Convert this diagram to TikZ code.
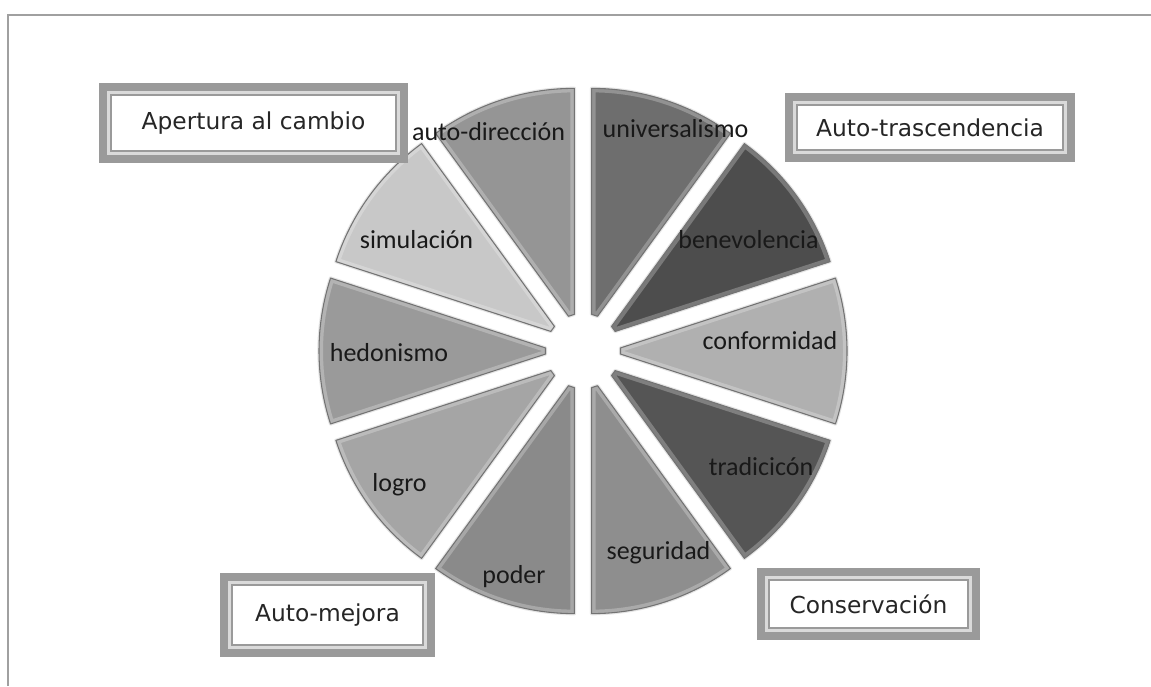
\documentclass[tikz,border=0pt]{standalone}
\usepackage{fontspec}
\setmainfont{Carlito}
\newfontfamily\boxfont{DejaVu Sans}
\definecolor{framec}{HTML}{A0A0A0}
\definecolor{boxg}{HTML}{9A9A9A}
\definecolor{boxl}{HTML}{DADADA}
\definecolor{cuni}{HTML}{6E6E6E}
\definecolor{cben}{HTML}{4D4D4D}
\definecolor{ccon}{HTML}{B0B0B0}
\definecolor{ctra}{HTML}{555555}
\definecolor{cseg}{HTML}{8E8E8E}
\definecolor{cpod}{HTML}{8A8A8A}
\definecolor{clog}{HTML}{A5A5A5}
\definecolor{ched}{HTML}{9A9A9A}
\definecolor{csim}{HTML}{C8C8C8}
\definecolor{caut}{HTML}{959595}
\newcommand\wedgepath[1]{(#1-18:10) -- (#1-18:236) arc[start angle=#1-18,end angle=#1+18,radius=236] -- (#1+18:10) -- cycle}
\newcommand\myframedbox[1]{%
  \draw[band] ([shift={(4,4)}]#1.south west) rectangle ([shift={(-4,-4)}]#1.north east);
  \draw[strip] ([shift={(9.5,9.5)}]#1.south west) rectangle ([shift={(-9.5,-9.5)}]#1.north east);
  \draw[thinline] ([shift={(12,12)}]#1.south west) rectangle ([shift={(-12,-12)}]#1.north east);}
\begin{document}
\begin{tikzpicture}[x=0.75pt,y=0.75pt,
  wlab/.style={anchor=base,inner sep=0pt,font=\fontsize{19.5pt}{22pt}\selectfont,text=black!90},
  boxnode/.style={inner sep=0pt,font=\boxfont\fontsize{17.5pt}{20pt}\selectfont,text=black!85},
  band/.style={boxg,line width=6pt},
  strip/.style={boxl,line width=2.25pt},
  thinline/.style={boxg,line width=1.5pt}]
\useasboundingbox (0,0) rectangle (1151,686);
\fill[white] (0,0) rectangle (1151,686);
\draw[framec,line width=1.5pt] (8,0) -- (8,671) -- (1151,671);

% pie wedges
\foreach \a/\col in {72/cuni,36/cben,0/ccon,324/ctra,288/cseg,252/cpod,216/clog,180/ched,144/csim,108/caut}{
  \begin{scope}[shift={(583,335)},shift={(\a:28)}]
  \draw[black!10,line width=2.5pt,line join=round] \wedgepath{\a};
  \fill[\col] \wedgepath{\a};
  \begin{scope}
    \clip \wedgepath{\a};
    \draw[white,opacity=0.25,line width=6pt,line join=round] \wedgepath{\a};
  \end{scope}
  \draw[black!55,line width=0.8pt,line join=round] \wedgepath{\a};
  \end{scope}
}

% wedge labels
\node[wlab] (luni) at (675.5,548) {universalismo};
\node[wlab] (laut) at (488.5,545) {auto-dirección};
\node[wlab] (lsim) at (416.5,437) {simulación};
\node[wlab] (lhed) at (389,325) {hedonismo};
\node[wlab] (llog) at (399.5,195) {logro};
\node[wlab] (lpod) at (514,103) {poder};
\node[wlab] (lseg) at (658.5,127) {seguridad};
\node[wlab] (ltra) at (761,211) {tradicicón};
\node[wlab] (lcon) at (770,337) {conformidad};
\node[wlab] (lben) at (748.5,437) {benevolencia};

% framed boxes
\node[boxnode,minimum width=231.75pt,minimum height=60pt] (apertura) at (253.5,563) {Apertura al cambio};
\myframedbox{apertura}
\node[boxnode,minimum width=217.5pt,minimum height=51.75pt] (trasc) at (930,558.5) {Auto-trascendencia};
\myframedbox{trasc}
\node[boxnode,minimum width=161.25pt,minimum height=63pt] (mejora) at (327.5,71) {Auto-mejora};
\myframedbox{mejora}
\node[boxnode,minimum width=167.25pt,minimum height=54pt] (conserv) at (868.5,82) {Conservación};
\myframedbox{conserv}
\end{tikzpicture}
\end{document}
